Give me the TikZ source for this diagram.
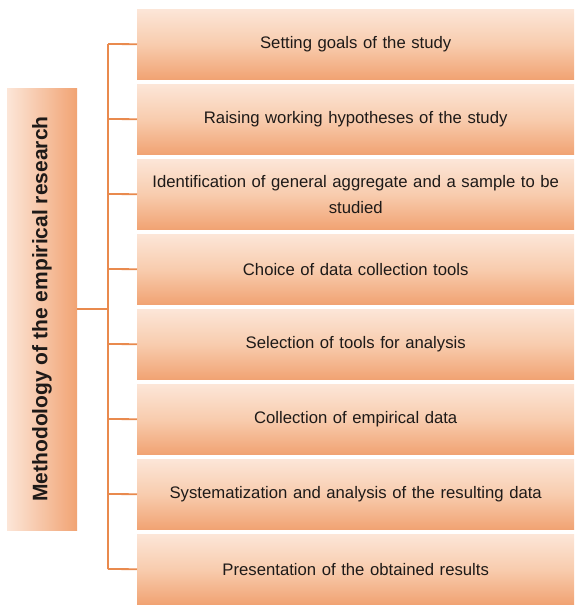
\documentclass[tikz,border=0pt]{standalone}
\usepackage{fontspec}
\setmainfont{Liberation Sans}
\begin{document}
\begin{tikzpicture}[x=1pt,y=-1pt,
  stepbox/.style={draw=none,minimum width=437pt,minimum height=70pt,inner sep=0pt,
    text width=430pt,align=center,anchor=north west,
    top color=boxtop,bottom color=boxbot,middle color=boxmid,
    font=\fontsize{16.7}{26}\selectfont,text=textc},
  leftbox/.style={draw=none,minimum width=70pt,minimum height=442pt,inner sep=0pt,
    left color=boxtop,right color=boxbot},
  lefttext/.style={rotate=90,inner sep=0pt,font=\bfseries\fontsize{21}{24}\selectfont,text=textc},
  conn/.style={draw=linec,line width=1.8pt}]
\definecolor{boxtop}{HTML}{FCE6D8}
\definecolor{boxmid}{HTML}{F8CCAE}
\definecolor{boxbot}{HTML}{F1A373}
\definecolor{linec}{HTML}{E98A4E}
\definecolor{textc}{HTML}{1E1A18}
\useasboundingbox (0,0) rectangle (574,606);
\fill[white] (0,0) rectangle (574,606);
\node[stepbox] (s1) at (137,9) {Setting goals of the study};
\node[stepbox] (s2) at (137,84) {Raising working hypotheses of the study};
\node[stepbox] (s3) at (137,159) {Identification of general aggregate and a sample to be\\studied};
\node[stepbox] (s4) at (137,234) {Choice of data collection tools};
\node[stepbox] (s5) at (137,309) {Selection of tools for analysis};
\node[stepbox] (s6) at (137,384) {Collection of empirical data};
\node[stepbox] (s7) at (137,459) {Systematization and analysis of the resulting data};
\node[stepbox] (s8) at (137,534) {Presentation of the obtained results};
\node[leftbox] (lb) at (42,309) {};
\node[lefttext] (lt) at (lb.center) {Methodology of the empirical research};
\coordinate (j) at (108,309);
\coordinate (top) at (108,44);
\coordinate (bot) at (108,569);
\draw[conn] (lb.east) -- (j);
\draw[conn] (top) -- (bot);
\foreach \i in {1,...,8} {
  \draw[conn] (108,{44+75*(\i-1)}) -- (s\i.west);
}
\end{tikzpicture}
\end{document}
